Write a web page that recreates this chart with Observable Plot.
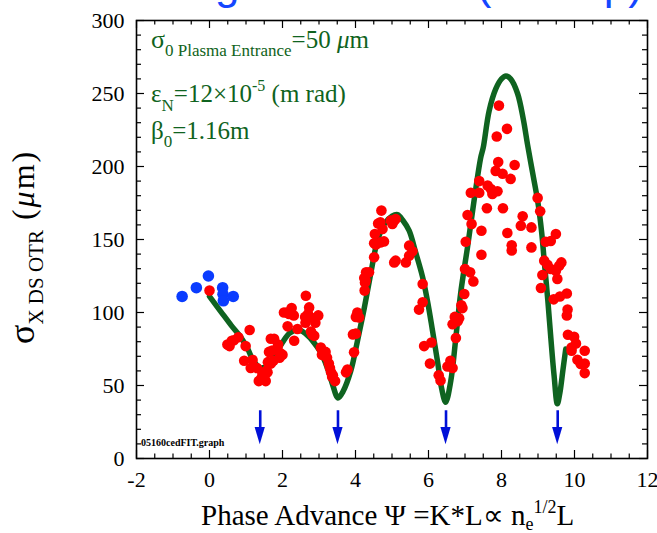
<!DOCTYPE html>
<html><head><meta charset="utf-8">
<script src="https://cdn.jsdelivr.net/npm/d3@7"></script>
<script src="https://cdn.jsdelivr.net/npm/@observablehq/plot@0.6"></script>
<style>
html,body{margin:0;padding:0;background:#fff;}
#chart{width:657px;height:533px;overflow:hidden;}
svg{display:block;}
</style></head><body><div id="chart"></div>
<script>
// Blue points (before plasma)
const blueX = [-0.75, -0.36, -0.03, 0.36, 0.37, 0.38, 0.65];
const blueY = [111, 117, 125, 117, 112.5, 108, 111];

// Red points (measured)
const redX = [0.00,0.49,0.55,0.61,0.67,0.79,0.99,1.10,0.95,1.18,1.13,1.30,1.35,1.54,1.45,1.55,1.50,1.59,1.42,1.68,1.77,1.63,1.72,1.86,1.60,1.68,1.75,1.88,1.95,1.92,2.00,
2.04,2.12,2.18,2.25,2.31,2.14,2.32,2.41,2.64,2.73,2.62,2.63,2.70,2.86,2.98,2.90,2.78,2.82,2.87,
3.05,3.08,3.18,3.22,3.27,3.30,3.33,3.36,3.44,3.38,3.74,3.78,3.96,3.93,4.01,4.05,4.01,4.10,
4.25,4.26,4.24,4.29,4.28,4.37,4.51,4.51,4.56,4.68,4.78,4.53,4.62,4.68,4.74,4.71,4.97,5.06,5.10,5.01,
5.47,5.56,5.47,5.38,5.10,5.06,5.84,5.74,5.84,5.88,6.08,6.04,6.28,6.33,
6.52,6.60,6.66,6.66,6.72,6.80,6.84,6.75,6.93,6.90,6.98,7.00,7.14,7.23,7.02,7.07,7.18,7.16,
7.39,7.39,7.62,7.71,7.75,7.89,7.60,8.04,7.45,7.45,8.16,8.28,8.28,7.93,8.15,7.87,7.91,7.84,8.03,8.36,8.25,
8.58,8.53,8.82,8.82,8.99,9.06,9.08,9.12,9.21,9.35,9.49,9.17,9.26,9.35,9.49,9.58,9.64,9.53,
9.43,9.60,9.79,9.79,9.81,9.82,9.99,10.04,9.92,9.92,10.28,10.08,10.17,10.28,10.28];
const redY = [115,78,77,80.7,81,83,77,88,67,67.5,62,62,53,53,58,60,56,59,55,82,82,73,74,75,66,65,67,78,72,69,71,
100,100,99,103,98,90.5,80.7,88.7,111.5,103.5,97,93,99,96,98,93,87,85,84,
76,71,73,69,65,62,59,56,53,57,59,61,72.7,85,85.5,100,97,96.6,
115,120.6,123.6,127.5,121.8,127.5,137.8,147.4,146.5,148,148.7,153.8,161,161.8,157.2,169.8,163,163,164,160.6,
145.8,142,138.9,134.3,135.5,134.3,119.5,102,107,77,79.5,65,57,53.5,
63,67,62,92,97,94,96,82.5,103,105,112.7,129.8,127.5,121.3,148.5,166.8,160.7,182,
182,190,187,184.6,181.2,183,171.4,171.4,156,139.6,154.5,146,142.5,241.7,225.8,220.5,203,197,195,201,191.5,
165.9,159.5,158.3,144.6,178.5,169.3,116.8,125.7,148.5,149,153.8,135.5,132.7,129.8,128.6,132,134.3,123,
109,111,113,98,102,84.8,83.4,78.8,76,73.8,73.8,67.6,64.7,65,58.5];

// Model fit curve
const fitX = [0.00,0.30,0.60,0.86,1.05,1.20,1.40,1.60,1.80,2.00,2.20,2.45,2.70,2.96,3.10,3.23,3.38,3.52,3.66,3.87,4.05,4.24,4.42,4.60,4.80,5.00,5.15,5.30,5.47,5.65,5.84,6.00,6.11,6.25,6.36,6.47,6.61,6.75,6.88,7.07,7.25,7.43,7.50,7.66,7.84,8.00,8.12,8.25,8.44,8.60,8.71,8.85,8.99,9.10,9.17,9.27,9.35,9.44,9.53,9.60,9.68,9.76];
const fitY = [111,101,91,83,75,67,62,64,71,79.5,86,88,84,76,70,62,50,41.5,46,60,80,103,127,149,161,166,167,163,156,141,124,104,87.5,66,48,38.5,53,83,113,145,177,206,213,238,253,260,262,260,250,232,215.5,196,176.6,155,135.5,108,83,57,37.5,45,60,75];

// Arrows marking the minima
const arrowX = [1.39, 3.52, 6.48, 9.54];

// Axis ticks
const xMajor = [-2, 0, 2, 4, 6, 8, 10, 12];
const xMinor = d3.range(-2, 12.001, 0.5).filter(v => !xMajor.includes(v));
const yMajor = [0, 50, 100, 150, 200, 250, 300];
const yMinor = d3.range(0, 300.001, 10).filter(v => !yMajor.includes(v));

const red = redX.map((x, i) => ({x, y: redY[i]}));
const blue = blueX.map((x, i) => ({x, y: blueY[i]}));
const fit = fitX.map((x, i) => ({x, y: fitY[i]}));
const heads = arrowX.flatMap((a, i) => [
  {g: i, x: a - 0.14, y: 21.2},
  {g: i, x: a, y: 9.4},
  {g: i, x: a + 0.14, y: 21.2}
]);

const serif = "'Times New Roman', 'Liberation Serif', Times, serif";
const W = 657, H = 533, mL = 136, mR = 10, mT = 20, mB = 75;
const pw = W - mL - mR, ph = H - mT - mB;
const green = "#0f6320";
const arrowBlue = "#0010d8";

const svg = Plot.plot({
  width: W, height: H,
  marginLeft: mL, marginRight: mR, marginTop: mT, marginBottom: mB,
  style: {fontFamily: serif, background: "white", color: "black"},
  x: {domain: [-2, 12]},
  y: {domain: [0, 300]},
  marks: [
    Plot.ruleX(xMajor, {insetTop: ph - 8, stroke: "black", strokeWidth: 1.2}),
    Plot.ruleX(xMajor, {insetBottom: ph - 8, stroke: "black", strokeWidth: 1.2}),
    Plot.ruleX(xMinor, {insetTop: ph - 4.5, stroke: "black", strokeWidth: 1.2}),
    Plot.ruleX(xMinor, {insetBottom: ph - 4.5, stroke: "black", strokeWidth: 1.2}),
    Plot.ruleY(yMajor, {insetRight: pw - 8, stroke: "black", strokeWidth: 1.2}),
    Plot.ruleY(yMajor, {insetLeft: pw - 8, stroke: "black", strokeWidth: 1.2}),
    Plot.ruleY(yMinor, {insetRight: pw - 5, stroke: "black", strokeWidth: 1.2}),
    Plot.ruleY(yMinor, {insetLeft: pw - 5, stroke: "black", strokeWidth: 1.2}),
    Plot.axisX({ticks: xMajor, tickSize: 0, tickPadding: 13, fontSize: 22, label: null, tickFormat: d => String(d)}),
    Plot.axisY({ticks: yMajor, tickSize: 0, tickPadding: 12, fontSize: 22, label: null, tickFormat: d => String(d)}),
    Plot.frame({stroke: "black", strokeWidth: 1.6}),
    Plot.ruleX(arrowX, {y1: 32.7, y2: 20, stroke: arrowBlue, strokeWidth: 2.6}),
    Plot.areaY(heads, {x: "x", y1: 21.2, y2: "y", z: "g", fill: arrowBlue, curve: "linear"}),
    Plot.line(fit, {x: "x", y: "y", stroke: green, strokeWidth: 5.5, curve: "catmull-rom", strokeLinejoin: "round"}),
    Plot.dot(blue, {x: "x", y: "y", r: 5.8, fill: "#0a3cff"}),
    Plot.dot(red, {x: "x", y: "y", r: 5.3, fill: "#ff0000"})
  ]
});

const root = d3.select(svg);

// Cut-off blue title at the very top (only its descenders show)
root.append("text")
  .attr("x", 61).attr("y", -1).attr("text-anchor", "start")
  .attr("font-family", "Arial, 'Liberation Sans', sans-serif")
  .attr("font-size", 44).attr("fill", "#1446ff")
  .text("Matching Beam Size (Fit Exp)");

// Green annotations
const ann = (y, parts) => {
  const t = root.append("text").attr("x", 151).attr("y", y).attr("text-anchor", "start")
    .attr("font-family", serif).attr("fill", green).attr("font-size", 25);
  parts.forEach(([s, size, dy, style]) => {
    const ts = t.append("tspan").attr("font-size", size).attr("dy", dy).text(s);
    if (style) ts.attr("font-style", style);
  });
};
ann(48, [["σ", 26, 0], ["0 Plasma Entrance", 17, 8], ["=50 ", 25, -8], ["μ", 25, 0, "italic"], ["m", 25, 0]]);
ann(102, [["ε", 25, 0], ["N", 17, 9], ["=12×10", 25, -9], ["-5", 16, -11], [" (m rad)", 25, 11]]);
ann(139, [["β", 25, 0], ["0", 17, 8], ["=1.16m", 25, -8]]);

// small file label
root.append("text").attr("x", 141).attr("y", 446).attr("text-anchor", "start")
  .attr("font-family", serif).attr("font-weight", "bold").attr("font-size", 10)
  .text("05160cedFIT.graph");

// X axis title
const xt = root.append("text").attr("x", 201).attr("y", 525).attr("text-anchor", "start")
  .attr("font-family", serif).attr("font-size", 29);
xt.append("tspan").text("Phase Advance Ψ =K*L∝ n");
xt.append("tspan").attr("font-size", 18).attr("dy", 5).text("e");
xt.append("tspan").attr("font-size", 18).attr("dy", -17).text("1/2");
xt.append("tspan").attr("dy", 12).text("L");

// Y axis title (rotated)
const yt = root.append("text").attr("transform", "translate(34,344) rotate(-90)").attr("text-anchor", "start")
  .attr("font-family", serif).attr("font-size", 32);
yt.append("tspan").attr("font-size", 36).text("σ");
yt.append("tspan").attr("font-size", 21).attr("dy", 9).text("X DS OTR");
yt.append("tspan").attr("dy", -9).attr("letter-spacing", 2).text(" (");
yt.append("tspan").attr("font-style", "italic").attr("letter-spacing", 2).text("μ");
yt.append("tspan").attr("letter-spacing", 2).text("m)");

document.getElementById("chart").appendChild(svg);
</script>
</body></html>
